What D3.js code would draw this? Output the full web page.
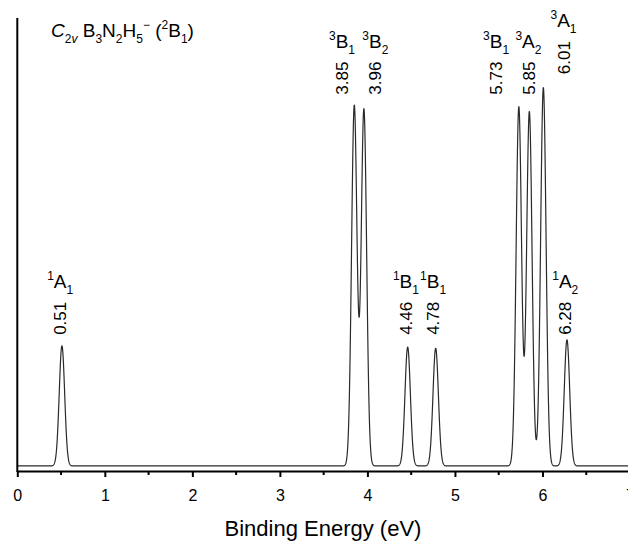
<html>
  <head>
    <title>C2v B3N2H5- spectrum</title>
    <style>
      body {
        margin: 0;
        background: #fff;
        font-family: "Liberation Sans", Arial, Helvetica, sans-serif;
      }
      svg {
        display: block;
      }
    </style>
    <script src="https://cdn.jsdelivr.net/npm/d3@7"></script>
  </head>
  <body>
    <div id="chart"></div>
    <script>
      // stick spectrum: final states, binding energies (eV), relative intensities
      const energies = [0.51, 3.85, 3.96, 4.46, 4.78, 5.73, 5.85, 6.01, 6.28];
      const intensities = [1.0, 3.0, 2.97, 0.99, 0.98, 2.99, 2.95, 3.15, 1.05];
      const spinMult = ["1", "3", "3", "1", "1", "3", "3", "3", "1"];
      const symLetter = ["A", "B", "B", "B", "B", "B", "A", "A", "A"];
      const symIndex = ["1", "1", "2", "1", "1", "1", "2", "1", "2"];
      // where the annotations sit (eV along x, intensity units along y)
      const labelEnergy = [0.49, 3.71, 4.09, 4.44, 4.75, 5.47, 5.84, 6.24, 6.26];
      const labelLevel = [1, 3, 3, 1, 1, 3, 3, 3.17, 1];
      const xTicks = [0, 1, 2, 3, 4, 5, 6, 7];
      const sigma = 0.031; // gaussian broadening width (eV)

      const width = 628,
        height = 541;

      const x = d3.scaleLinear().domain([0, 7]).range([17.3, 630]);
      const y = d3.scaleLinear().domain([-0.042, 3.73]).range([471, 18]);

      const svg = d3
        .select("#chart")
        .append("svg")
        .attr("width", width)
        .attr("height", height)
        .attr("viewBox", [0, 0, width, height]);

      // broadened spectrum from the sticks
      const grid = d3.range(0, 7.0001, 0.002);
      const spectrum = grid.map((e) => [
        e,
        d3.sum(energies, (e0, i) =>
          intensities[i] * Math.exp(-((e - e0) ** 2) / (2 * sigma * sigma))
        ),
      ]);

      svg
        .append("path")
        .datum(spectrum)
        .attr("fill", "none")
        .attr("stroke", "#2a2a2a")
        .attr("stroke-width", 1.2)
        .attr("stroke-linejoin", "round")
        .attr(
          "d",
          d3
            .line()
            .x((d) => x(d[0]))
            .y((d) => y(d[1]))
        );

      // axes
      const xAxis = svg
        .append("g")
        .attr("transform", `translate(0,${y.range()[0]})`)
        .call(
          d3
            .axisBottom(x)
            .tickValues(xTicks)
            .tickFormat(d3.format("d"))
            .tickSize(6)
            .tickSizeOuter(0)
            .tickPadding(13)
        );
      xAxis.select(".domain").attr("stroke", "#000").attr("stroke-width", 2);
      xAxis.selectAll(".tick line").attr("stroke", "#000").attr("stroke-width", 2);
      xAxis
        .selectAll(".tick text")
        .attr("fill", "#000")
        .attr("font-size", 16)
        .attr("font-family", "Liberation Sans, Arial, sans-serif");

      svg
        .append("g")
        .selectAll("line")
        .data(d3.range(0.5, 7, 1))
        .join("line")
        .attr("x1", (d) => x(d))
        .attr("x2", (d) => x(d))
        .attr("y1", y.range()[0])
        .attr("y2", y.range()[0] + 4)
        .attr("stroke", "#000")
        .attr("stroke-width", 2);

      svg
        .append("line")
        .attr("x1", x(0))
        .attr("x2", x(0))
        .attr("y1", y.range()[1])
        .attr("y2", y.range()[0] + 1)
        .attr("stroke", "#000")
        .attr("stroke-width", 2);

      svg
        .append("text")
        .attr("x", 323)
        .attr("y", 536)
        .attr("text-anchor", "middle")
        .attr("font-size", 22)
        .text("Binding Energy (eV)");

      // peak annotations
      const ann = svg
        .append("g")
        .selectAll("g")
        .data(energies)
        .join("g")
        .attr(
          "transform",
          (d, i) => `translate(${x(labelEnergy[i])},${y(labelLevel[i]) - 11})`
        );

      ann
        .append("text")
        .attr("transform", "rotate(-90)")
        .attr("dy", "0.36em")
        .attr("font-size", 17)
        .text((d) => d.toFixed(2));

      const term = ann
        .append("text")
        .attr("y", -47)
        .attr("text-anchor", "middle")
        .attr("font-size", 19);
      term
        .append("tspan")
        .attr("font-size", 12)
        .attr("dy", -8)
        .text((d, i) => spinMult[i]);
      term
        .append("tspan")
        .attr("dy", 8)
        .text((d, i) => symLetter[i]);
      term
        .append("tspan")
        .attr("font-size", 12)
        .attr("dy", 6)
        .text((d, i) => symIndex[i]);

      // molecule / state title
      const title = svg
        .append("text")
        .attr("x", 51)
        .attr("y", 37)
        .attr("font-size", 19);
      const parts = [
        { t: "C", style: "italic" },
        { t: "2", sub: true },
        { t: "v", sub: true, style: "italic" },
        { t: " B" },
        { t: "3", sub: true },
        { t: "N" },
        { t: "2", sub: true },
        { t: "H" },
        { t: "5", sub: true },
        { t: "\u2212", sup: true },
        { t: " (" },
        { t: "2", sup: true },
        { t: "B" },
        { t: "1", sub: true },
        { t: ")" },
      ];
      let shift = 0;
      parts.forEach((p) => {
        const target = p.sub ? 6 : p.sup ? -8 : 0;
        title
          .append("tspan")
          .attr("dy", target - shift)
          .attr("font-size", p.sub || p.sup ? 12 : 19)
          .attr("font-style", p.style || null)
          .text(p.t);
        shift = target;
      });
    </script>
  </body>
</html>
